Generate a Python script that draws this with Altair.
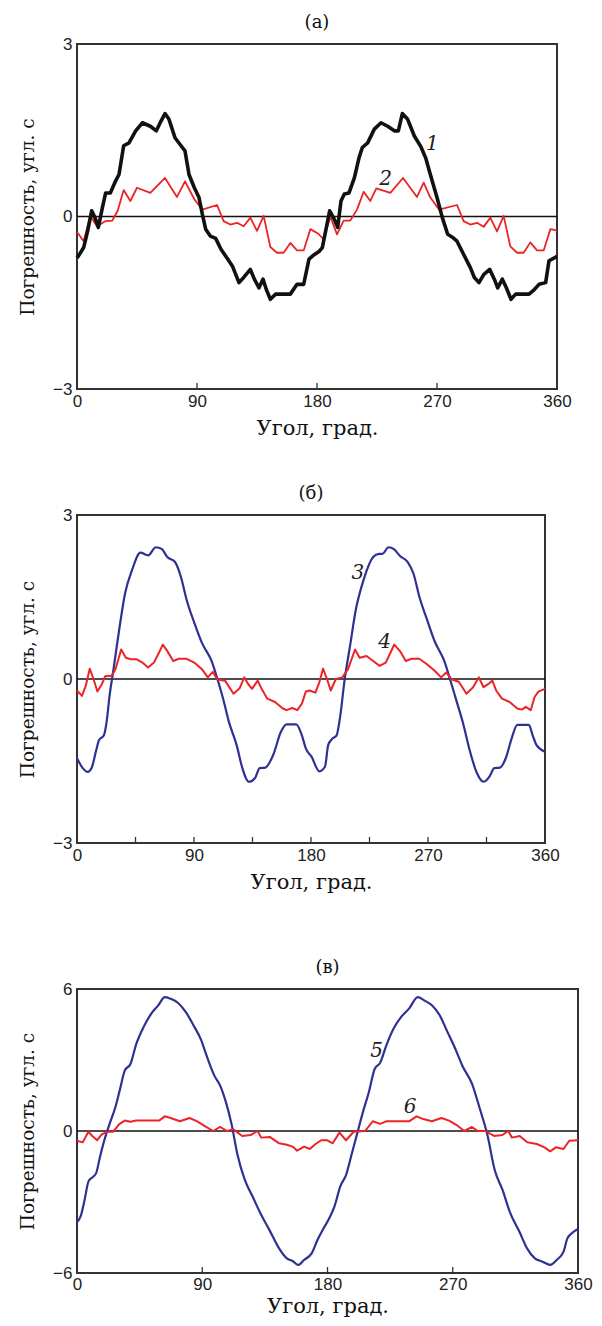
import altair as alt
import pandas as pd

# ---------------- panel (а) ----------------
a1_angle = [0, 1, 5, 8, 11, 13.5, 16, 19, 21.5, 25, 29, 31.5, 35, 39, 44, 49, 55, 59.5, 63, 66, 69,
            73.5, 78, 81, 84, 88, 91.5, 94, 96.5, 100, 104, 108, 113, 116.5, 121.5, 125, 130, 133,
            136.5, 139.5, 142, 145, 149, 160, 165, 170, 174, 177, 181.5, 184, 186.5, 189.5, 193,
            195.5, 198, 200.5, 204, 208, 211.5, 214, 218, 223, 228, 233, 238, 241, 244, 248, 253,
            258, 261.5, 265, 270, 274, 278, 281.5, 285, 290, 295, 298, 301.5, 305, 309.5, 313,
            315.5, 319, 322, 325.5, 329, 339, 343, 346.5, 351.5, 354, 358, 360]
a1_value = [-0.72, -0.69, -0.54, -0.25, 0.1, -0.02, -0.19, 0.15, 0.41, 0.41, 0.62, 0.73, 1.23, 1.28,
            1.49, 1.63, 1.57, 1.49, 1.66, 1.79, 1.69, 1.37, 1.23, 1.14, 0.73, 0.5, 0.33, 0.04, -0.22,
            -0.34, -0.38, -0.57, -0.74, -0.86, -1.15, -1.06, -0.92, -1.09, -1.24, -1.09, -1.27,
            -1.44, -1.35, -1.35, -1.18, -1.18, -0.74, -0.68, -0.61, -0.54, -0.25, 0.1, -0.05,
            -0.19, 0.27, 0.39, 0.41, 0.67, 1.02, 1.2, 1.28, 1.52, 1.63, 1.57, 1.49, 1.49, 1.79,
            1.69, 1.4, 1.21, 1.02, 0.73, 0.33, -0.02, -0.31, -0.36, -0.43, -0.66, -0.89, -1.06,
            -1.15, -1.01, -0.92, -1.09, -1.24, -1.09, -1.24, -1.44, -1.35, -1.35, -1.27, -1.18,
            -1.15, -0.77, -0.72, -0.69]

a2_angle = [0, 1, 5, 10, 15, 21.5, 26.5, 30.5, 35, 40, 45, 55, 66, 75, 81, 88, 94, 105, 110, 115,
            120, 125, 130, 135, 140, 145, 150, 155, 160, 165, 170, 175, 181, 185, 190, 195, 200,
            205, 210, 215, 220, 224.5, 235, 244.5, 255, 260, 265, 271.5, 285, 290, 295, 300, 305,
            310, 315, 320, 325, 330, 335, 340, 345, 350, 355, 360]
a2_value = [-0.28, -0.3, -0.43, 0.01, -0.17, -0.08, -0.07, 0.1, 0.46, 0.27, 0.5, 0.41, 0.67, 0.34,
            0.61, 0.3, 0.12, 0.2, -0.08, -0.14, -0.11, -0.17, -0.02, -0.25, 0.01, -0.53, -0.63,
            -0.63, -0.46, -0.59, -0.59, -0.22, -0.3, -0.4, 0.0, -0.31, -0.07, -0.07, 0.12, 0.43,
            0.27, 0.49, 0.41, 0.67, 0.34, 0.59, 0.33, 0.12, 0.2, -0.08, -0.14, -0.11, -0.18,
            -0.02, -0.26, 0.01, -0.52, -0.63, -0.63, -0.45, -0.59, -0.59, -0.22, -0.24]

# ---------------- panel (б) ----------------
b3_angle = [0, 4.4, 8.3, 11.2, 14.8, 16.9, 20.7, 22.8, 25.1, 28.1, 32.5, 37, 42.3, 48.8, 54.7, 60.6,
            65.1, 69.5, 75.4, 79.9, 84.3, 90.2, 96.1, 103.5, 108, 112.4, 116.8, 122.8, 127.2, 132.2,
            137, 140.5, 144.9, 150.9, 156.8, 161.2, 168.6, 173, 176, 180.4, 186.4, 190.8, 193.2,
            196.1, 199.7, 202.6, 205.6, 210, 214.5, 220.4, 227.8, 232.2, 235, 239.6, 244, 248.5,
            254.4, 258.8, 263.3, 269.2, 275.1, 282.5, 286.9, 291.4, 297.3, 301.7, 307.6, 312.7,
            317.4, 321, 325.4, 329.8, 334.3, 338.7, 347.6, 350.5, 353.5, 360]
b3_value = [-1.45, -1.63, -1.7, -1.63, -1.3, -1.12, -1.03, -0.78, -0.3, 0.18, 0.91, 1.57, 1.99, 2.31,
            2.26, 2.41, 2.38, 2.23, 2.14, 1.87, 1.45, 1.03, 0.66, 0.33, 0.0, -0.36, -0.78, -1.21,
            -1.63, -1.88, -1.81, -1.63, -1.62, -1.39, -0.97, -0.83, -0.83, -1.03, -1.27, -1.42,
            -1.69, -1.6, -1.21, -1.1, -1.03, -0.66, -0.06, 0.6, 1.27, 1.81, 2.23, 2.29, 2.29, 2.41,
            2.37, 2.25, 2.14, 1.93, 1.51, 1.09, 0.69, 0.33, 0.0, -0.36, -0.84, -1.27, -1.72, -1.88,
            -1.78, -1.63, -1.62, -1.45, -1.09, -0.84, -0.84, -1.03, -1.21, -1.33]

b4_angle = [0, 3.8, 6.8, 9.8, 12.7, 15.7, 19.2, 21.6, 26.6, 29.6, 34, 37.6, 41.4, 46, 50.3, 54.7,
            59.2, 63, 66, 69.5, 74, 78.4, 84.3, 90.2, 96.1, 100.6, 104.4, 108, 113.9, 120.4, 125.1,
            128.7, 131.6, 134.6, 139, 142, 146.4, 152.3, 158.3, 161.2, 165.6, 169.5, 173, 176, 179,
            183.4, 186.4, 189.3, 192.3, 195.2, 199.1, 204.1, 208.5, 213.9, 217.4, 222.7, 227.8,
            232.8, 237.5, 241.1, 244, 248.5, 252.9, 257.3, 263.3, 269.2, 275.1, 280.1, 284, 288.4,
            293.7, 299.6, 304.7, 309.1, 312.7, 316.5, 319.5, 322.4, 326.9, 332.8, 338.7, 342.2,
            345.2, 349, 352, 354.9, 360]
b4_value = [-0.21, -0.31, -0.12, 0.19, 0.0, -0.23, -0.09, 0.05, 0.06, 0.18, 0.54, 0.39, 0.36, 0.36,
            0.3, 0.21, 0.3, 0.48, 0.63, 0.51, 0.33, 0.37, 0.37, 0.3, 0.18, 0.03, 0.13, -0.01, -0.03,
            -0.27, -0.17, 0.03, -0.09, -0.18, -0.03, -0.18, -0.36, -0.42, -0.54, -0.57, -0.53,
            -0.57, -0.45, -0.23, -0.21, -0.25, -0.06, 0.19, 0.0, -0.21, 0.0, 0.03, 0.18, 0.54, 0.39,
            0.42, 0.33, 0.24, 0.3, 0.48, 0.63, 0.51, 0.33, 0.37, 0.37, 0.27, 0.15, 0.03, 0.12,
            -0.01, -0.05, -0.27, -0.15, 0.03, -0.15, -0.09, -0.03, -0.21, -0.36, -0.42, -0.54,
            -0.56, -0.51, -0.57, -0.33, -0.23, -0.18]

# ---------------- panel (в) ----------------
c5_angle = [0, 2.7, 5.5, 8.2, 11, 13.7, 16.5, 19.2, 23.3, 27.4, 31, 34.3, 38.4, 42.5, 48, 53.5, 58.4,
            63.1, 67.2, 72.7, 78.1, 83.6, 89.1, 93.2, 98.7, 102.8, 106.9, 111.1, 115.2, 120.6, 126.1,
            131.6, 138.5, 145.3, 150.8, 154.9, 159, 163.1, 168.6, 172.7, 176.9, 181, 185.1, 189.2,
            193.3, 197.4, 201.5, 205.6, 209.8, 213.9, 218, 222.1, 227.6, 233.1, 238.6, 244.9, 249.5,
            255, 260.5, 266, 271.5, 276.9, 283.8, 289.3, 294.8, 300.2, 305.7, 311.2, 318.1, 323.5,
            329, 334.5, 340, 344.7, 349.6, 352.3, 355.1, 360]
c5_value = [-3.86, -3.59, -2.9, -2.14, -1.96, -1.79, -1.1, -0.48, 0.28, 0.97, 1.79, 2.55, 2.83, 3.66,
            4.41, 4.97, 5.31, 5.66, 5.59, 5.41, 5.03, 4.48, 3.86, 3.17, 2.34, 1.93, 1.24, 0.28,
            -0.97, -2.07, -2.76, -3.45, -4.21, -4.97, -5.38, -5.49, -5.66, -5.45, -5.17, -4.62,
            -4.14, -3.72, -3.17, -2.34, -1.86, -0.97, -0.07, 0.83, 1.66, 2.62, 2.9, 3.59, 4.34,
            4.83, 5.17, 5.66, 5.52, 5.31, 4.9, 4.21, 3.52, 2.76, 2.0, 0.97, -0.14, -1.66, -2.48,
            -3.45, -4.28, -4.97, -5.38, -5.52, -5.66, -5.45, -5.1, -4.55, -4.34, -4.14]

c6_angle = [0, 4.1, 8.2, 11, 14.5, 17.8, 21.9, 26, 30.2, 34.3, 38.4, 42.5, 59, 63.1, 67.2, 74, 80.9,
            86.4, 91.9, 97.9, 102.8, 107.8, 112.4, 118.7, 124.8, 129.7, 132.4, 138.5, 145.3, 150.8,
            154.9, 158.2, 163.1, 167.3, 171.4, 175.5, 179.6, 183.7, 188.6, 193.3, 198.8, 207, 212.5,
            218, 222.1, 238.6, 244, 248.1, 255, 261.9, 267.3, 272.8, 278.3, 283.8, 287.9, 293.4,
            299.7, 305.7, 309.8, 312.6, 318.1, 323.5, 330.4, 335.9, 340, 344.1, 349.6, 353.7, 360]
c6_value = [-0.41, -0.48, -0.03, -0.21, -0.39, -0.14, -0.03, -0.03, 0.28, 0.44, 0.39, 0.44, 0.44,
            0.62, 0.55, 0.41, 0.55, 0.41, 0.21, 0.0, 0.17, 0.0, 0.07, -0.21, -0.17, 0.0, -0.28,
            -0.25, -0.52, -0.58, -0.66, -0.83, -0.66, -0.76, -0.55, -0.39, -0.39, -0.52, -0.07,
            -0.39, -0.03, 0.0, 0.41, 0.3, 0.41, 0.41, 0.62, 0.52, 0.41, 0.55, 0.44, 0.25, 0.0, 0.17,
            0.0, 0.0, -0.21, -0.17, 0.0, -0.28, -0.21, -0.48, -0.55, -0.69, -0.86, -0.69, -0.76,
            -0.41, -0.39]

# curve number labels: text, angle, value
lab_a = (["1", "2"], [266.5, 231.5], [1.26, 0.65])
lab_b = (["3", "4"], [216, 236.6], [1.93, 0.68])
lab_c = (["5", "6"], [215.2, 239.4], [3.38, 1.03])

X_TICKS = [0, 90, 180, 270, 360]
TICKS_A = [90, 180, 270]
TICKS_B = [45, 90, 135, 180, 225, 270, 315]
TICKS_C = [90, 180, 270]

RED = "#ec2327"
BLUE = "#2e3192"
BLACK = "#111111"
SERIF = "DejaVu Serif"
SANS = "Liberation Sans Narrow, Liberation Sans, Arial, sans-serif"


def panel(title, curves, lim, ticks, labels, w, h, lab_pad=4, xt_pad=8):
    xs = alt.Scale(domain=[0, 360], nice=False, zero=False)
    ys = alt.Scale(domain=[-lim, lim], nice=False, zero=False)
    xaxis = alt.Axis(values=X_TICKS, title="Угол, град.", grid=False, domain=False, ticks=False,
                     labelFlush=False, labelPadding=lab_pad, titlePadding=xt_pad,
                     titleFontSize=21)
    yaxis = alt.Axis(values=[-lim, 0, lim], title="Погрешность, угл. с", grid=False, domain=False,
                     ticks=False, labelPadding=5, titlePadding=15.5, titleFontSize=18.5)
    X = lambda: alt.X("angle:Q", scale=xs, axis=xaxis, title="Угол, град.")
    Y = lambda: alt.Y("value:Q", scale=ys, axis=yaxis, title="Погрешность, угл. с")
    layers = []
    for ang, val, color, sw, interp in curves:
        df = pd.DataFrame({"angle": ang, "value": val})
        layers.append(
            alt.Chart(df).mark_line(color=color, strokeWidth=sw, interpolate=interp,
                                    strokeJoin="round").encode(x=X(), y=Y(), order="angle:Q")
        )
    zero = alt.Chart(pd.DataFrame({"angle": [0, 360], "value": [0, 0]})).mark_line(
        color=BLACK, strokeWidth=1.5).encode(x=X(), y=Y())
    tk = alt.Chart(pd.DataFrame({"angle": ticks})).mark_rule(color="#333", strokeWidth=1.3).encode(
        x=X(), y=alt.value(h), y2=alt.value(h - 6))
    txt, tang, tval = labels
    tx = alt.Chart(pd.DataFrame({"t": txt, "angle": tang, "value": tval})).mark_text(
        font=SERIF, fontStyle="italic", fontSize=20, color="#222").encode(
        x=X(), y=Y(), text="t:N")
    return alt.layer(zero, tk, *layers, tx).properties(
        width=w, height=h, title=alt.TitleParams(title))


# black drawn over red in panel (а); red over blue in (б), (в)
pa = panel("(а)", [(a2_angle, a2_value, RED, 1.8, "linear"),
                   (a1_angle, a1_value, BLACK, 3.6, "linear")], 3, TICKS_A, lab_a, 480, 345)
pb = panel("(б)", [(b3_angle, b3_value, BLUE, 2.2, "monotone"),
                   (b4_angle, b4_value, RED, 2.0, "linear")], 3, TICKS_B, lab_b, 468, 328)
pc = panel("(в)", [(c5_angle, c5_value, BLUE, 2.2, "monotone"),
                   (c6_angle, c6_value, RED, 2.0, "linear")], 6, TICKS_C, lab_c, 501, 284,
           lab_pad=3, xt_pad=3)

chart = alt.vconcat(alt.vconcat(pa, pb, spacing=45), pc, spacing=65).properties(
    padding={"left": 9, "top": 5, "right": 0, "bottom": 0}
).configure_view(
    stroke="#333", strokeWidth=2
).configure_axis(
    labelFont=SANS, labelFontSize=17, labelColor="#222",
    titleFont=SERIF, titleFontSize=20, titleFontWeight="normal", titleColor="#111"
).configure_title(
    font=SERIF, fontSize=18, fontWeight="normal", color="#111", offset=3, frame="group",
    anchor="middle"
)

chart.save("out.html", embed_options={"renderer": "svg", "actions": False})
